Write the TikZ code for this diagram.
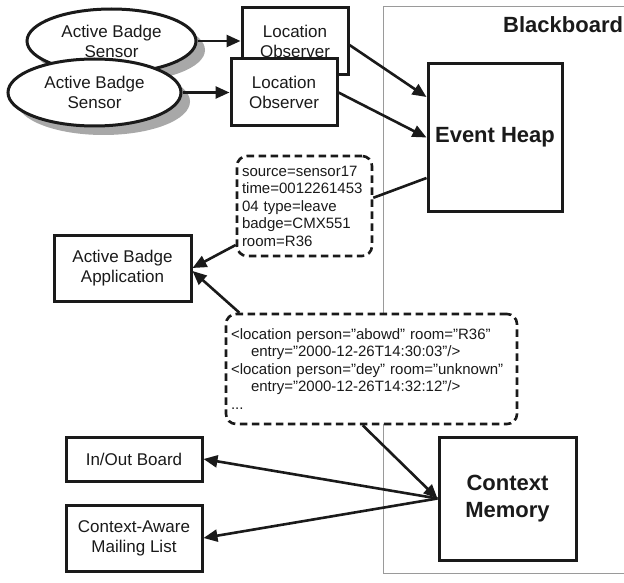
\documentclass[tikz,border=0pt]{standalone}
\usepackage{fontspec}
\setmainfont{Liberation Sans}
\usetikzlibrary{arrows.meta,calc,shapes.geometric,shadows}
\definecolor{ink}{HTML}{1A1A1A}
\definecolor{bbline}{HTML}{9A9A9A}
\definecolor{shade}{HTML}{A8A8A8}
\begin{document}
\begin{tikzpicture}[x=1pt,y=-1pt,
  lbl/.style={font=\fontsize{17}{20}\selectfont, text=ink, align=center},
  big/.style={font=\fontsize{22}{27}\selectfont\bfseries, text=ink, align=center},
  rbox/.style={draw=ink, line width=3pt, fill=white, inner sep=0pt, lbl},
  bigbox/.style={draw=ink, line width=3pt, fill=white, inner sep=0pt, big},
  ell/.style={ellipse, draw=ink, line width=3pt, fill=white, inner sep=0pt, lbl,
    drop shadow={opacity=1, fill=shade, shadow xshift=9pt, shadow yshift=-9pt}},
  msg/.style={draw=ink, line width=2.6pt, dash pattern=on 7.5pt off 4.5pt, rounded corners=10pt,
    fill=white, inner ysep=0pt, inner xsep=5pt, align=left, text=ink,
    font=\fontsize{15}{17.5}\selectfont},
  arr/.style={draw=ink, line width=2.6pt, -{Triangle[length=14pt,width=12pt]}},
  ln/.style={draw=ink, line width=2.6pt}
]
\useasboundingbox (0,0) rectangle (624,583);
\fill[white] (0,0) rectangle (624,583);
% Blackboard region
\draw[bbline, line width=1pt] (640,7) -- (383,7) -- (383,573) -- (640,573);
\node[big, anchor=base west, inner sep=0pt] (bb) at (503,33) {Blackboard};

% sensors and observers
\node[ell, minimum width=169pt, minimum height=64pt] (e1) at (111.5,41) {Active Badge\\Sensor};
\node[rbox, minimum width=106pt, minimum height=67pt] (lo1) at (295,41.5) {Location\\Observer};
\node[ell, minimum width=173pt, minimum height=67pt] (e2) at (94.5,92.5) {Active Badge\\Sensor};
\node[rbox, minimum width=106pt, minimum height=67pt] (lo2) at (284,92.5) {Location\\Observer};

\node[bigbox, minimum width=134pt, minimum height=147pt] (eh) at (495,137.5) {Event Heap};
\node[bigbox, minimum width=137pt, minimum height=123pt] (cm) at (507.5,498.5) {Context\\Memory};

\node[rbox, minimum width=137pt, minimum height=66pt] (aba) at (122.5,268) {Active Badge\\Application};
\node[rbox, minimum width=136pt, minimum height=44pt] (io) at (134,459) {In/Out Board};
\node[rbox, minimum width=136pt, minimum height=66pt] (ml) at (134,538) {Context-Aware\\Mailing List};

\node[msg, text width=125pt, minimum height=100pt] (b1) at (304.5,206)
  {source=sensor17\\time=0012261453\\04 type=leave\\badge=CMX551\\room=R36};
\node[msg, text width=281pt, minimum height=110pt] (b2) at (371.5,369)
  {<location person="abowd" room="R36"\\
   \hspace*{20pt}entry="2000-12-26T14:30:03"/>\\
   <location person="dey" room="unknown"\\
   \hspace*{20pt}entry="2000-12-26T14:32:12"/>\\
   ...};

% connectors
\draw[arr] (e1.east) -- (e1.east -| lo1.west);
\draw[arr] (e2.east) -- (e2.east -| lo2.west);
\draw[arr] ($(lo1.north east)!0.55!(lo1.south east)$) -- ($(eh.north west)!0.23!(eh.south west)$);
\draw[arr] (lo2.east) -- (eh.west);
\draw[ln] ($(eh.north west)!0.77!(eh.south west)$) -- ($(b1.north east)!0.42!(b1.south east)$);
\draw[arr] ($(b1.north west)!0.88!(b1.south west)$) -- (aba.east);
\draw[arr] ($(b2.north west)!0.05!(b2.north east)$) -- ([yshift=-3pt]aba.east);
\draw[arr] ($(b2.south west)!0.47!(b2.south east)$) -- (cm.west);
\draw[arr] (cm.west) -- (io.east);
\draw[arr] (cm.west) -- (ml.east);
\end{tikzpicture}
\end{document}
